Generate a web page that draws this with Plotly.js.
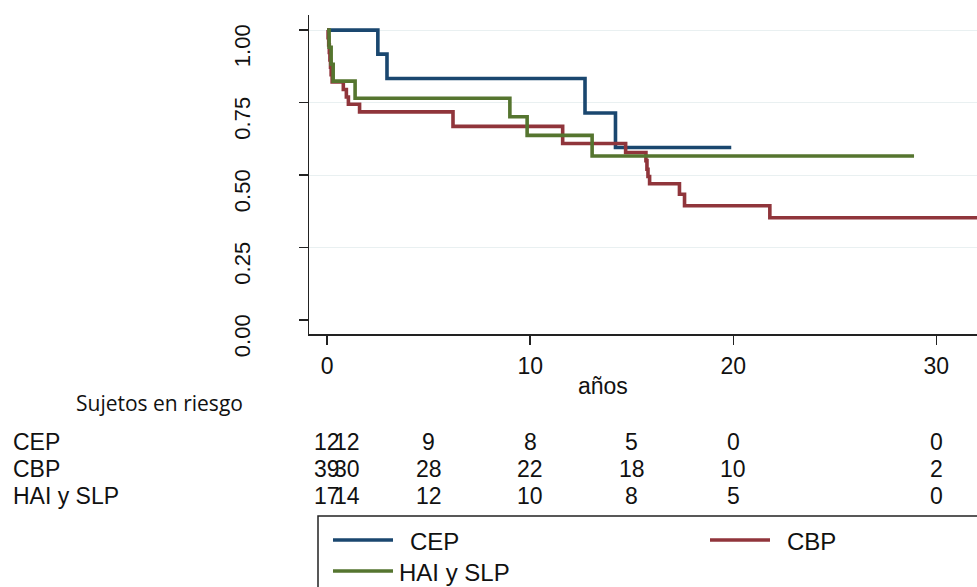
<!DOCTYPE html>
<html>
<head>
<meta charset="utf-8">
<script src="https://cdn.plot.ly/plotly-3.0.1.min.js"></script>
<style>html,body{margin:0;padding:0;background:#fff;}#chart{width:977px;height:587px;}</style>
</head>
<body>
<div id="chart"></div>
<script>
// ---- data ----
const groupNames = ['CEP', 'CBP', 'HAI y SLP'];
const groupColors = ['#1a476f', '#90353b', '#55752f'];

const cepTime = [0, 2.5, 2.95, 12.7, 14.2, 19.9];
const cepSurv = [1, 0.917, 0.833, 0.714, 0.595, 0.595];

const cbpTime = [0, 0.05, 0.08, 0.11, 0.14, 0.17, 0.2, 0.25, 0.8, 0.95, 1.05, 1.6, 6.2, 11.6, 14.7, 15.7, 15.75, 15.8, 15.88, 17.35, 17.6, 21.8, 32];
const cbpSurv = [1, 0.974, 0.949, 0.923, 0.897, 0.872, 0.846, 0.821, 0.795, 0.769, 0.744, 0.718, 0.668, 0.609, 0.578, 0.55, 0.52, 0.495, 0.47, 0.434, 0.394, 0.353, 0.353];

const haiTime = [0, 0.1, 0.2, 0.3, 1.38, 9.0, 9.85, 13.05, 28.9];
const haiSurv = [1, 0.941, 0.882, 0.824, 0.765, 0.701, 0.637, 0.566, 0.566];

const riskTimes = [0, 1, 5, 10, 15, 20, 30];
const riskCEP = [12, 12, 9, 8, 5, 0, 0];
const riskCBP = [39, 30, 28, 22, 18, 10, 2];
const riskHAI = [17, 14, 12, 10, 8, 5, 0];

const yTicks = [0, 0.25, 0.5, 0.75, 1];
const yTickText = ['0.00', '0.25', '0.50', '0.75', '1.00'];
const xTicks = [0, 10, 20, 30];

// ---- geometry helpers (pixel -> paper) ----
const L = 309, R = 977, T = 15, B = 334;
const px = x => (x - L) / (R - L);
const py = y => (B - y) / (B - T);

const times = [cepTime, cbpTime, haiTime];
const survs = [cepSurv, cbpSurv, haiSurv];
const risks = [riskCEP, riskCBP, riskHAI];

const traces = groupNames.map((n, i) => ({
  x: times[i], y: survs[i], name: n, type: 'scatter', mode: 'lines',
  line: {shape: 'hv', color: groupColors[i], width: 3.6},
  showlegend: false, hoverinfo: 'skip'
}));
// invisible trace to attach the grid axis
traces.push({x: [0], y: [0], yaxis: 'y2', mode: 'markers', marker: {opacity: 0}, showlegend: false, hoverinfo: 'skip'});

const font = 'Liberation Sans, Arial, sans-serif';
const annotations = [];
const rowY = [442, 469, 496];

annotations.push({text: 'años', xref: 'paper', yref: 'paper', x: px(603), y: py(386), showarrow: false,
  xanchor: 'center', yanchor: 'middle', font: {family: font, size: 23, color: '#111'}});
annotations.push({text: 'Sujetos en riesgo', xref: 'paper', yref: 'paper', x: px(74), y: py(403), showarrow: false,
  xanchor: 'left', yanchor: 'middle', font: {family: 'Open Sans, sans-serif', size: 21, color: '#111'}});

groupNames.forEach((n, i) => {
  annotations.push({text: n, xref: 'paper', yref: 'paper', x: px(11), y: py(rowY[i]), showarrow: false,
    xanchor: 'left', yanchor: 'middle', font: {family: font, size: 23, color: '#111'}});
  riskTimes.forEach((t, j) => {
    annotations.push({text: String(risks[i][j]), xref: 'x', yref: 'paper', x: t, y: py(rowY[i]), showarrow: false,
      xanchor: 'center', yanchor: 'middle', font: {family: font, size: 23, color: '#111'}});
  });
});

// legend box
const shapes = [];
shapes.push({type: 'rect', xref: 'paper', yref: 'paper', x0: px(318), x1: px(990), y0: py(516), y1: py(600),
  line: {color: '#222', width: 1.5}, fillcolor: 'rgba(0,0,0,0)'});
const legItems = [
  {lx: 333, ly: 540, tx: 408},
  {lx: 710, ly: 540, tx: 785},
  {lx: 333, ly: 571, tx: 397}
];
groupNames.forEach((n, i) => {
  const it = legItems[i];
  shapes.push({type: 'line', xref: 'paper', yref: 'paper', x0: px(it.lx), x1: px(it.lx + 60), y0: py(it.ly), y1: py(it.ly),
    line: {color: groupColors[i], width: 3.5}});
  annotations.push({text: n, xref: 'paper', yref: 'paper', x: px(it.tx), y: py(it.ly + 1), showarrow: false,
    xanchor: 'left', yanchor: 'middle', font: {family: font, size: 24, color: '#111'}});
});

const layout = {
  width: 977, height: 587,
  margin: {l: L, r: 977 - R, t: T, b: 587 - B, pad: 0},
  paper_bgcolor: '#fff', plot_bgcolor: '#fff',
  showlegend: false,
  xaxis: {range: [-0.89, 32.0], tickvals: xTicks, ticks: 'outside', ticklen: 9, tickwidth: 1.5, tickcolor: '#222',
    showline: true, linecolor: '#222', linewidth: 1.5, showgrid: false, zeroline: false,
    tickfont: {family: font, size: 23, color: '#111'}, ticklabelstandoff: 2},
  yaxis: {range: [-0.048, 1.052], tickvals: yTicks, ticktext: yTickText, ticks: 'outside', ticklen: 9, tickwidth: 1.5,
    tickcolor: '#222', showline: true, linecolor: '#222', linewidth: 1.5, showgrid: false, zeroline: false,
    tickangle: -90, tickfont: {family: font, size: 22, color: '#111'}, ticklabelstandoff: 40, ticklabelshift: 19},
  yaxis2: {range: [-0.048, 1.052], overlaying: 'y', tickvals: [0.25, 0.5, 0.75, 1], showticklabels: false, ticks: '',
    showgrid: true, gridcolor: '#e9f0f1', gridwidth: 1, zeroline: false, showline: false, layer: 'below traces'},
  annotations: annotations,
  shapes: shapes
};

Plotly.newPlot('chart', traces, layout, {staticPlot: true, displayModeBar: false});
</script>
</body>
</html>
